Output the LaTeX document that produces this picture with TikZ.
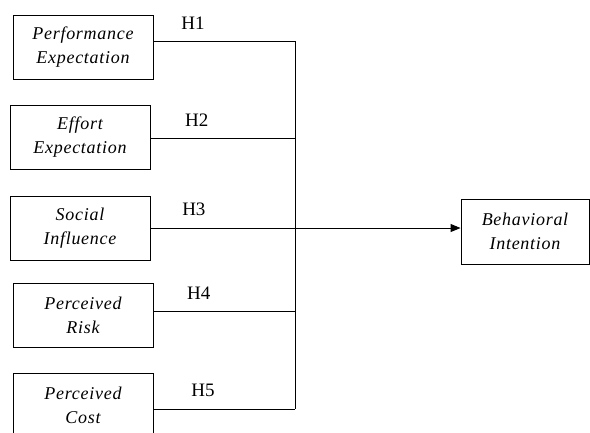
\documentclass[tikz,border=0pt]{standalone}
\usepackage{fontspec}
\setmainfont{Liberation Serif}
\newfontfamily\spacedserif[LetterSpace=4]{Liberation Serif}
\usepackage{tikz}
\usetikzlibrary{positioning,calc,arrows.meta}

\begin{document}
\begin{tikzpicture}[x=1pt, y=-1pt,
    construct/.style={draw, line width=0.9pt, minimum width=140pt, minimum height=64pt,
        inner sep=0pt, align=center, font=\spacedserif\itshape\fontsize{18}{24}\selectfont},
    hyp/.style={font=\fontsize{19}{22}\selectfont, above=8pt},
    link/.style={line width=1pt}]
    \clip (0,0) rectangle (590,432);

    % Constructs
    \node[construct] (pe) at (83,47) {Performance\\Expectation};
    \node[construct] (ee) at (80,137) {Effort\\Expectation};
    \node[construct] (si) at (80,228) {Social\\Influence};
    \node[construct] (pr) at (83,315.5) {Perceived\\Risk};
    \node[construct] (pc) at (83,405) {Perceived\\Cost};
    \node[construct, minimum width=128pt, minimum height=65pt] (bi) at (525,231.5) {Behavioral\\Intention};

    % Bus line
    \coordinate (bus) at (295,0);
    \coordinate (pe-out) at ([yshift=6pt]pe.east);
    \coordinate (ee-out) at ([yshift=-1pt]ee.east);
    \coordinate (pr-out) at ([yshift=4.5pt]pr.east);
    \coordinate (pc-out) at ([yshift=-4pt]pc.east);
    \draw[link] (pe-out -| bus) -- (pc-out -| bus);

    % Hypotheses
    \foreach \n/\h/\p in {pe/H1/0.28, ee/H2/0.32, pr/H4/0.32, pc/H5/0.35} {
        \draw[link] (\n-out) -- node[hyp, pos=\p] {\h} (\n-out -| bus);
    }
    \draw[link, -{Triangle[length=10pt, width=8pt]}] (si.east) -- node[hyp, pos=0.14] {H3} (si.east -| bi.west);

\end{tikzpicture}
\end{document}
